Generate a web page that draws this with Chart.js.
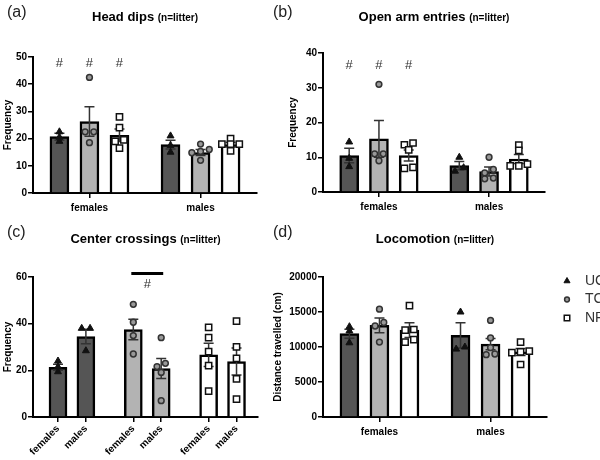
<!DOCTYPE html>
<html>
<head>
<meta charset="utf-8">
<script src="https://cdn.jsdelivr.net/npm/chart.js@4"></script>
<style>
  body { margin: 0; background: #fff; }
  #wrap { position: relative; width: 600px; height: 460px; }
  canvas { position: absolute; }
</style>
</head>
<body>
<div id="wrap">
  <canvas id="chartA" width="265" height="222" style="left:0;top:0"></canvas>
  <canvas id="chartB" width="335" height="222" style="left:265px;top:0"></canvas>
  <canvas id="chartC" width="265" height="240" style="left:0;top:220px"></canvas>
  <canvas id="chartD" width="335" height="240" style="left:265px;top:220px"></canvas>
</div>
<script>
const treatments = ["UC", "TC", "NP"];
const sexes = ["females", "males"];
const subTitle = "(n=litter)";

// (a) head dips, one value per litter: [females, males]
const headDipsUC = [[22.5, 20.5, 19], [21, 17.5, 15]];
const headDipsTC = [[42.5, 22.5, 22.5, 18.5], [18, 16, 15.3, 14.8, 12]];
const headDipsNP = [[28, 24, 19.5, 19, 16.5], [20, 18, 18, 18, 15.5]];
const headDipsMean = [[20.7, 17.8], [26.3, 14.9], [21.2, 17.8]];
const headDipsSem = [[1.3, 1.6], [5.4, 1.1], [2.3, 0.8]];

// (b) open arm entries
const openArmUC = [[14.4, 9.7, 7.3], [10, 7, 6]];
const openArmTC = [[31, 11, 11, 9], [10, 6.5, 5.5, 4, 3.8]];
const openArmNP = [[14.1, 13.6, 12.1, 7.1, 6.8], [13.5, 12, 8, 7.5, 7.5]];
const openArmMean = [[10.5, 7.6], [15.3, 5.9], [10.5, 9.5]];
const openArmSem = [[2.1, 1.2], [5.3, 1.3], [1.6, 1.3]];

// (c) center crossings
const centerUC = [[24, 21.5, 19.4], [38, 38, 28.4]];
const centerTC = [[48.3, 40.6, 34.9, 27], [34, 23, 21.6, 19.1, 7]];
const centerNP = [[38.4, 34, 28, 22, 11.1], [41.1, 30.1, 25.1, 16.3, 7.7]];
const centerMean = [[21.3, 34.5], [37.5, 20.8], [26.6, 23.8]];
const centerSem = [[1.3, 3.1], [4.4, 4.3], [5.0, 5.8]];

// (d) locomotion, distance in cm
const locoUC = [[12900, 12300, 10600], [15000, 10000, 9700]];
const locoTC = [[15400, 13500, 13000, 10700], [13800, 11300, 9900, 9000, 8900]];
const locoNP = [[15900, 12500, 12400, 11050, 10700], [10700, 9400, 9300, 9200, 7500]];
const locoMean = [[11900, 11650], [13100, 10400], [12400, 9300]];
const locoSem = [[650, 1800], [1050, 800], [1050, 500]];

const FONT = 'Arial, "Liberation Sans", Helvetica, sans-serif';
Chart.defaults.font.family = FONT;
Chart.defaults.color = "#000";

const barFill = ["#555555", "#b3b3b3", "#ffffff"];
const dotStyle = [
  { style: "triangle", r: 4, fill: "#111", line: "#111", width: 1 },
  { style: "circle", r: 2.9, fill: "#999", line: "#333", width: 1.5 },
  { style: "rect", r: 4.4, fill: "#fff", line: "#111", width: 1.5 }
];

// bar slots on the x axis
const groupedPos = [1, 2, 3, 4.7, 5.7, 6.7];
const pairedPos = [1, 2, 3.7, 4.7, 6.4, 7.4];

// spread dots that sit at nearly the same height
function jitter(values, thr, step) {
  const order = values.map((v, i) => i).sort((a, b) => values[a] - values[b]);
  const offs = values.map(() => 0);
  let group = [order[0]];
  for (let k = 1; k <= order.length; k++) {
    const i = order[k];
    if (k < order.length && values[i] - values[group[group.length - 1]] < thr) {
      group.push(i);
    } else {
      group.forEach((g, j) => offs[g] = (j - (group.length - 1) / 2) * step);
      group = [i];
    }
  }
  return offs;
}

function panelPlugin(p, bars) {
  return {
    id: "panelDeco",
    afterDatasetDraw(chart, args) {
      if (args.index !== 0) return;
      // error bars: mean +/- SEM
      const x = chart.scales.x, y = chart.scales.y, ctx = chart.ctx;
      ctx.save();
      ctx.strokeStyle = "#333";
      ctx.lineWidth = 1.5;
      bars.forEach(b => {
        const px = x.getPixelForValue(b.pos);
        const hi = y.getPixelForValue(b.mean + b.sem);
        const lo = y.getPixelForValue(b.mean - b.sem);
        ctx.beginPath();
        ctx.moveTo(px, hi); ctx.lineTo(px, lo);
        ctx.moveTo(px - 5, hi); ctx.lineTo(px + 5, hi);
        ctx.moveTo(px - 5, lo); ctx.lineTo(px + 5, lo);
        ctx.stroke();
      });
      ctx.restore();
    },
    afterDraw(chart) {
      const ctx = chart.ctx, area = chart.chartArea;
      const x = chart.scales.x, y = chart.scales.y;
      ctx.save();
      // panel letter
      ctx.fillStyle = "#222";
      ctx.font = "16px " + FONT;
      ctx.textAlign = "left";
      ctx.textBaseline = "alphabetic";
      ctx.fillText(p.letter, p.letterX, 17);
      // title: bold name + small (n=litter)
      ctx.fillStyle = "#000";
      ctx.font = "bold 13px " + FONT;
      const w1 = ctx.measureText(p.title + " ").width;
      ctx.font = "bold 10px " + FONT;
      const w2 = ctx.measureText(subTitle).width;
      const tx = (area.left + area.right) / 2 - (w1 + w2) / 2;
      ctx.fillText(subTitle, tx + w1, p.titleY);
      ctx.font = "bold 13px " + FONT;
      ctx.fillText(p.title, tx, p.titleY);
      // significance marks
      ctx.fillStyle = "#333";
      ctx.font = "13px " + FONT;
      ctx.textAlign = "center";
      ctx.textBaseline = "middle";
      (p.hashes || []).forEach(i => {
        ctx.fillText("#", x.getPixelForValue(bars[i].pos), y.getPixelForValue(p.hashY));
      });
      if (p.sigLine) {
        const [i, j] = p.sigLine;
        const x1 = x.getPixelForValue(bars[i].pos) - 2, x2 = x.getPixelForValue(bars[j].pos) + 2;
        ctx.strokeStyle = "#000";
        ctx.lineWidth = 3;
        ctx.beginPath();
        ctx.moveTo(x1, y.getPixelForValue(p.lineY));
        ctx.lineTo(x2, y.getPixelForValue(p.lineY));
        ctx.stroke();
        ctx.fillText("#", (x1 + x2) / 2, y.getPixelForValue(p.hashY));
      }
      // legend
      if (p.legend) {
        ctx.font = "14px " + FONT;
        ctx.textAlign = "left";
        treatments.forEach((name, t) => {
          const st = dotStyle[t];
          const ly = p.legendY + t * 18.5;
          ctx.fillStyle = st.fill;
          ctx.strokeStyle = st.line;
          ctx.lineWidth = st.width;
          Chart.helpers.drawPoint(ctx, { pointStyle: st.style, radius: st.r - 0.5, rotation: 0, borderWidth: st.width }, p.legendX, ly);
          ctx.fillStyle = "#333";
          ctx.fillText(name, p.legendX + 18, ly);
        });
      }
      ctx.restore();
    }
  };
}

function buildPanel(id, p) {
  const order = [];
  if (p.bySex) sexes.forEach((s, si) => treatments.forEach((t, ti) => order.push([ti, si])));
  else treatments.forEach((t, ti) => sexes.forEach((s, si) => order.push([ti, si])));
  const bars = order.map(([t, s], i) => ({ t, s, pos: p.pos[i], mean: p.means[t][s], sem: p.sems[t][s] }));

  const barSet = {
    type: "bar",
    order: 10,
    data: bars.map(b => ({ x: b.pos, y: b.mean })),
    backgroundColor: bars.map(b => barFill[b.t]),
    borderColor: "#000",
    borderWidth: 2.5,
    barThickness: p.barW
  };
  const dotSets = treatments.map((name, t) => ({
    type: "scatter",
    label: name,
    order: 0,
    data: bars.filter(b => b.t === t).flatMap(b => {
      const vals = p.points[t][b.s];
      const offs = jitter(vals, p.yMax * 0.03, p.step);
      return vals.map((v, k) => ({ x: b.pos + offs[k], y: v }));
    }),
    pointStyle: dotStyle[t].style,
    pointRadius: dotStyle[t].r,
    pointBackgroundColor: dotStyle[t].fill,
    pointBorderColor: dotStyle[t].line,
    pointBorderWidth: dotStyle[t].width
  }));

  new Chart(document.getElementById(id), {
    type: "bar",
    data: { datasets: [barSet, ...dotSets] },
    options: {
      responsive: false,
      animation: false,
      events: [],
      layout: { padding: { top: p.top, right: p.right, left: p.left, bottom: 0 } },
      plugins: { legend: { display: false }, tooltip: { enabled: false } },
      scales: {
        x: {
          type: "linear",
          min: p.xMin,
          max: p.xMax,
          offset: false,
          grid: { drawOnChartArea: false, tickLength: 5, color: "#000", lineWidth: 1.5, offset: false },
          border: { color: "#000", width: 2 },
          afterBuildTicks: s => { s.ticks = p.tickPos.map(v => ({ value: v })); },
          afterFit: s => { s.height = p.xHeight; },
          ticks: {
            autoSkip: false,
            maxRotation: p.rot,
            minRotation: p.rot,
            padding: p.rot ? 1 : 4,
            font: { size: 10, weight: "bold" },
            color: "#000",
            callback: (v, i) => p.tickLabels[i]
          }
        },
        y: {
          min: 0,
          max: p.yMax,
          grid: { drawOnChartArea: false, tickLength: 5, color: "#000", lineWidth: 1.5 },
          border: { color: "#000", width: 2 },
          afterFit: s => { s.width = p.yWidth; },
          ticks: { stepSize: p.yStep, padding: 1, font: { size: 10, weight: "bold" }, color: "#000", callback: v => v },
          title: { display: true, text: p.yTitle, font: { size: 10, weight: "bold" }, color: "#000", padding: { top: 2, bottom: 0 } }
        }
      }
    },
    plugins: [panelPlugin(p, bars)]
  });
}

buildPanel("chartA", {
  letter: "(a)", letterX: 7, title: "Head dips", titleY: 21,
  points: [headDipsUC, headDipsTC, headDipsNP], means: headDipsMean, sems: headDipsSem,
  bySex: true, pos: groupedPos, xMin: 0.12, xMax: 7.58, tickPos: [2, 5.7], tickLabels: sexes, rot: 0,
  top: 57, right: 8, left: 0, yWidth: 33, xHeight: 29,
  yMax: 50, yStep: 10, yTitle: "Frequency", barW: 19, step: 0.29,
  hashes: [0, 1, 2], hashY: 47.5
});

buildPanel("chartB", {
  letter: "(b)", letterX: 8, title: "Open arm entries", titleY: 20.5,
  points: [openArmUC, openArmTC, openArmNP], means: openArmMean, sems: openArmSem,
  bySex: true, pos: groupedPos, xMin: 0.12, xMax: 7.58, tickPos: [2, 5.7], tickLabels: sexes, rot: 0,
  top: 53, right: 55, left: 20, yWidth: 38, xHeight: 30,
  yMax: 40, yStep: 10, yTitle: "Frequency", barW: 19, step: 0.29,
  hashes: [0, 1, 2], hashY: 36.5
});

buildPanel("chartC", {
  letter: "(c)", letterX: 7, title: "Center crossings", titleY: 23,
  points: [centerUC, centerTC, centerNP], means: centerMean, sems: centerSem,
  bySex: false, pos: pairedPos, xMin: 0.104, xMax: 8.17, tickPos: pairedPos,
  tickLabels: treatments.flatMap(() => sexes), rot: 45,
  top: 57, right: 7, left: 0, yWidth: 33, xHeight: 43,
  yMax: 60, yStep: 20, yTitle: "Frequency", barW: 18, step: 0.3,
  sigLine: [2, 3], lineY: 61.5, hashY: 57
});

buildPanel("chartD", {
  letter: "(d)", letterX: 8, title: "Locomotion", titleY: 23,
  points: [locoUC, locoTC, locoNP], means: locoMean, sems: locoSem,
  bySex: true, pos: groupedPos, xMin: 0.12, xMax: 7.58, tickPos: [2, 5.7], tickLabels: sexes, rot: 0,
  top: 57, right: 53, left: 5, yWidth: 53, xHeight: 43,
  yMax: 20000, yStep: 5000, yTitle: "Distance travelled (cm)", barW: 19, step: 0.29,
  legend: true, legendX: 302, legendY: 61
});
</script>
</body>
</html>
